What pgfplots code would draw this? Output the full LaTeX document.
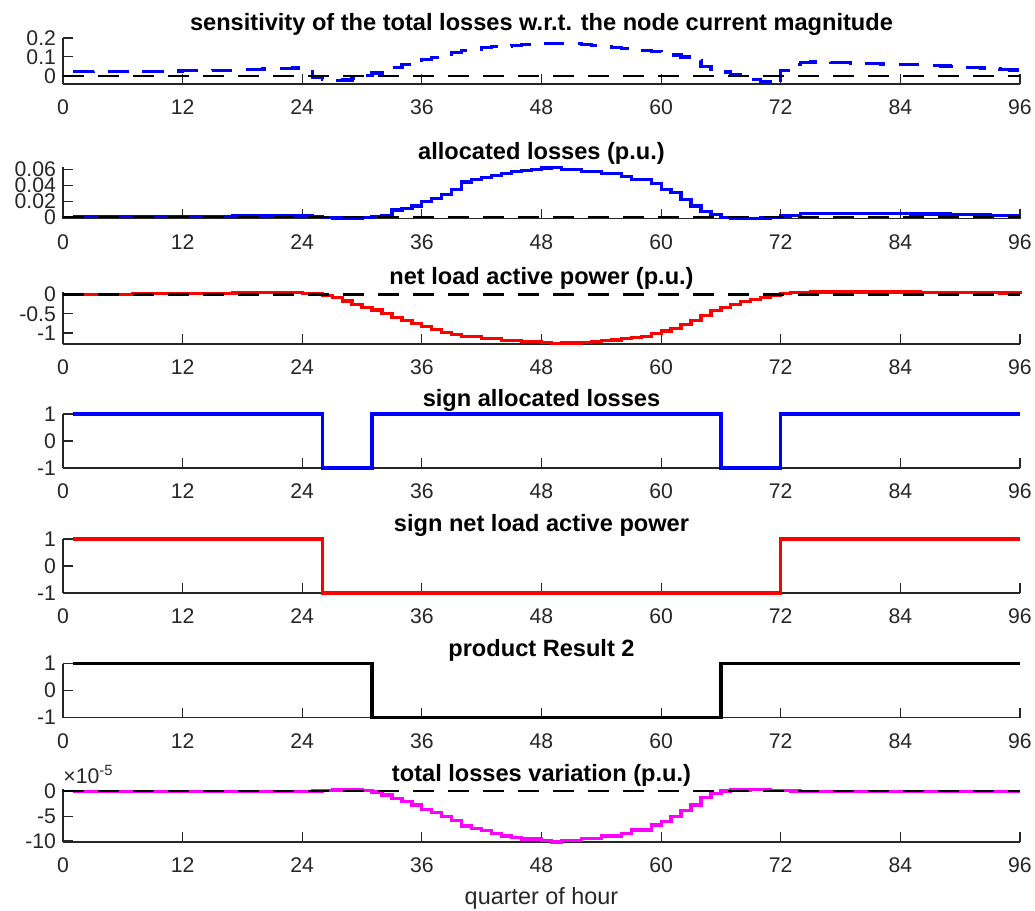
\documentclass[border=0pt]{standalone}
\usepackage{fontspec}
\setmainfont{Liberation Sans}
\usepackage{pgfplots}
\usepackage{pgfplotstable}
\pgfplotsset{compat=1.18}
\definecolor{axgray}{RGB}{38,38,38}
\definecolor{mymagenta}{RGB}{255,0,255}
\definecolor{myblue}{RGB}{0,0,255}
\definecolor{myred}{RGB}{255,0,0}

\pgfplotstableread{
k sens alloc net sA sN pr var
1 0.021 0.0005 0.003 1 1 1 0
2 0.021 0.0005 0.004 1 1 1 0
3 0.022 0.0005 0.005 1 1 1 0
4 0.022 0.0005 0.006 1 1 1 0
5 0.023 0.0005 0.008 1 1 1 0
6 0.023 0.0005 0.010 1 1 1 0
7 0.024 0.0005 0.012 1 1 1 0
8 0.024 0.0005 0.014 1 1 1 0
9 0.025 0.001 0.016 1 1 1 0
10 0.025 0.001 0.018 1 1 1 0
11 0.026 0.001 0.020 1 1 1 0
12 0.027 0.001 0.022 1 1 1 0
13 0.027 0.001 0.025 1 1 1 0
14 0.028 0.001 0.028 1 1 1 0
15 0.029 0.001 0.031 1 1 1 0
16 0.030 0.001 0.034 1 1 1 0
17 0.031 0.0015 0.037 1 1 1 0
18 0.033 0.0015 0.040 1 1 1 0
19 0.035 0.0015 0.043 1 1 1 0
20 0.036 0.0015 0.046 1 1 1 0
21 0.038 0.0015 0.048 1 1 1 0
22 0.040 0.0015 0.048 1 1 1 0
23 0.041 0.0015 0.045 1 1 1 0
24 0.042 0.0015 0.035 1 1 1 0.02
25 -0.010 0.001 0.012 1 1 1 0.05
26 -0.020 -0.0005 -0.030 -1 -1 1 0.12
27 -0.026 -0.001 -0.070 -1 -1 1 0.25
28 -0.022 -0.0012 -0.170 -1 -1 1 0.35
29 -0.015 -0.001 -0.260 -1 -1 1 0.35
30 0.002 -0.0005 -0.330 -1 -1 1 0.20
31 0.015 0.0008 -0.400 1 -1 -1 -0.13
32 0.032 0.0025 -0.500 1 -1 -1 -0.74
33 0.045 0.009 -0.600 1 -1 -1 -1.4
34 0.060 0.011 -0.670 1 -1 -1 -2.1
35 0.075 0.014 -0.760 1 -1 -1 -2.75
36 0.088 0.0196 -0.840 1 -1 -1 -3.6
37 0.095 0.023 -0.910 1 -1 -1 -4.2
38 0.100 0.028 -0.980 1 -1 -1 -5.0
39 0.125 0.035 -1.030 1 -1 -1 -5.9
40 0.133 0.044 -1.100 1 -1 -1 -7.0
41 0.140 0.047 -1.100 1 -1 -1 -7.45
42 0.150 0.0496 -1.150 1 -1 -1 -7.9
43 0.153 0.052 -1.150 1 -1 -1 -8.5
44 0.157 0.055 -1.190 1 -1 -1 -9.0
45 0.162 0.0575 -1.190 1 -1 -1 -9.3
46 0.167 0.058 -1.230 1 -1 -1 -9.6
47 0.170 0.060 -1.230 1 -1 -1 -9.6
48 0.171 0.0615 -1.250 1 -1 -1 -9.93
49 0.173 0.0625 -1.270 1 -1 -1 -10.2
50 0.173 0.060 -1.260 1 -1 -1 -9.93
51 0.171 0.060 -1.260 1 -1 -1 -9.93
52 0.165 0.0575 -1.240 1 -1 -1 -9.46
53 0.160 0.0575 -1.220 1 -1 -1 -9.46
54 0.157 0.055 -1.200 1 -1 -1 -9.0
55 0.150 0.055 -1.180 1 -1 -1 -9.0
56 0.145 0.051 -1.150 1 -1 -1 -8.5
57 0.140 0.047 -1.120 1 -1 -1 -7.8
58 0.136 0.047 -1.090 1 -1 -1 -7.8
59 0.130 0.042 -1.020 1 -1 -1 -6.8
60 0.120 0.035 -0.950 1 -1 -1 -6.1
61 0.110 0.031 -0.890 1 -1 -1 -5.1
62 0.100 0.0225 -0.780 1 -1 -1 -3.9
63 0.080 0.014 -0.670 1 -1 -1 -2.75
64 0.050 0.007 -0.540 1 -1 -1 -1.2
65 0.035 0.003 -0.410 1 -1 -1 -0.4
66 0.020 -0.0005 -0.340 -1 -1 1 0.05
67 0.005 -0.0012 -0.260 -1 -1 1 0.27
68 -0.012 -0.0015 -0.180 -1 -1 1 0.27
69 -0.020 -0.0015 -0.130 -1 -1 1 0.4
70 -0.030 -0.001 -0.070 -1 -1 1 0.4
71 -0.042 -0.0005 -0.026 -1 -1 1 0.13
72 0.030 0.0015 0.020 1 1 1 0.13
73 0.062 0.002 0.050 1 1 1 0.05
74 0.072 0.0045 0.062 1 1 1 0
75 0.073 0.0045 0.065 1 1 1 0
76 0.072 0.0045 0.065 1 1 1 0
77 0.070 0.0045 0.065 1 1 1 0
78 0.069 0.0045 0.065 1 1 1 0
79 0.068 0.0045 0.065 1 1 1 0
80 0.066 0.0045 0.065 1 1 1 0
81 0.064 0.0045 0.065 1 1 1 0
82 0.063 0.0045 0.065 1 1 1 0
83 0.062 0.0045 0.065 1 1 1 0
84 0.060 0.0045 0.065 1 1 1 0
85 0.059 0.004 0.064 1 1 1 0
86 0.058 0.004 0.062 1 1 1 0
87 0.055 0.004 0.060 1 1 1 0
88 0.052 0.004 0.058 1 1 1 0
89 0.050 0.003 0.055 1 1 1 0
90 0.046 0.003 0.052 1 1 1 0
91 0.043 0.003 0.050 1 1 1 0
92 0.041 0.003 0.047 1 1 1 0
93 0.038 0.002 0.044 1 1 1 0
94 0.034 0.002 0.041 1 1 1 0
95 0.031 0.002 0.038 1 1 1 0
96 0.030 0.002 0.035 1 1 1 0
}\data

\pgfplotsset{
  panel/.style={
    scale only axis, width=478.5pt, anchor=south west,
    xmin=0, xmax=96, xtick={0,12,...,96},
    scaled y ticks=false, scaled x ticks=false,
    axis x line*=bottom, axis y line*=left,
    axis line style={draw=axgray, line width=0.55pt, -},
    tick align=inside, major tick length=5pt,
    tick style={draw=axgray, line width=0.55pt},
    ticklabel style={font=\fontsize{10.6}{12}\selectfont, text=axgray},
    xticklabel style={yshift=-4.5pt},
    /pgf/number format/assume math mode=true,
    title style={font=\bfseries\fontsize{11.8}{13}\selectfont, at={(0.5,1)}, anchor=base, yshift=-2.25pt},
    clip=false,
  },
  zeroline/.style={black, line width=1.05pt, dash pattern=on 10.5pt off 7pt},
  stair/.style={const plot, line width=1.6pt},
}

\begin{document}
\begin{tikzpicture}
\path[use as bounding box] (0,0) rectangle (517.5pt,455.5pt);

\begin{axis}[panel, at={(31.5pt,413.5pt)}, height=23pt,
  ymin=-0.043, ymax=0.2, ytick={0,0.1,0.2}, yticklabels={0,0.1,0.2},
  title={sensitivity of the total losses w.r.t. the node current magnitude}]
\addplot[stair, myblue, dash pattern=on 10.5pt off 7pt] table[x=k,y=sens]{\data};
\addplot[zeroline] coordinates {(0,0) (96,0)};
\end{axis}

\begin{axis}[panel, at={(31.5pt,346.2pt)}, height=25.7pt,
  ymin=-0.0017, ymax=0.0625, ytick={0,0.02,0.04,0.06}, yticklabels={0,0.02,0.04,0.06},
  title={allocated losses (p.u.)}]
\addplot[stair, myblue] table[x=k,y=alloc]{\data};
\addplot[zeroline] coordinates {(0,0) (96,0)};
\end{axis}

\begin{axis}[panel, at={(31.5pt,283.5pt)}, height=26pt,
  ymin=-1.285, ymax=0.065, ytick={-1,-0.5,0}, yticklabels={-1,-0.5,0},
  title={net load active power (p.u.)}]
\addplot[stair, myred] table[x=k,y=net]{\data};
\addplot[zeroline] coordinates {(0,0) (96,0)};
\end{axis}

\begin{axis}[panel, at={(31.5pt,221.5pt)}, height=27pt,
  ymin=-1, ymax=1, ytick={-1,0,1}, yticklabels={-1,0,1},
  title={sign allocated losses}]
\addplot[stair, myblue] table[x=k,y=sA]{\data};
\end{axis}

\begin{axis}[panel, at={(31.5pt,159pt)}, height=27pt,
  ymin=-1, ymax=1, ytick={-1,0,1}, yticklabels={-1,0,1},
  title={sign net load active power}]
\addplot[stair, myred] table[x=k,y=sN]{\data};
\end{axis}

\begin{axis}[panel, at={(31.5pt,96.7pt)}, height=27pt,
  ymin=-1, ymax=1, ytick={-1,0,1}, yticklabels={-1,0,1},
  title={product Result 2}]
\addplot[stair, black] table[x=k,y=pr]{\data};
\end{axis}

\begin{axis}[panel, at={(31.5pt,34.5pt)}, height=26.35pt,
  ymin=-10.2, ymax=0.4, ytick={-10,-5,0}, yticklabels={-10,-5,0},
  title={total losses variation (p.u.)},
  xlabel={quarter of hour},
  xlabel style={font=\fontsize{11.7}{13}\selectfont, text=axgray, at={(0.5,0)}, anchor=base, yshift=-31pt}]
\addplot[stair, mymagenta] table[x=k,y=var]{\data};
\addplot[zeroline] coordinates {(0,0) (96,0)};
\node[anchor=base west, inner sep=0pt, font=\fontsize{10.6}{12}\selectfont, text=axgray]
  at (rel axis cs:0,1) [yshift=3pt] {×10\textsuperscript{-5}};
\end{axis}
\end{tikzpicture}
\end{document}
